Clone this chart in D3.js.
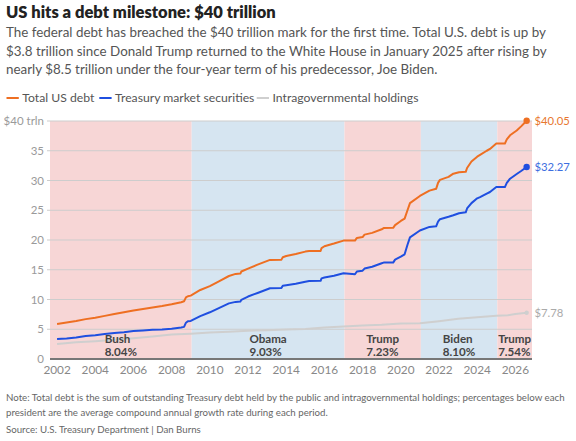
<!DOCTYPE html>
<html>
<head>
<meta charset="UTF-8">
<style>
  body { margin: 0; background: #fff; }
  svg { display: block; font-family: Lato, "Noto Sans", sans-serif; }
</style>
</head>
<body>
<svg id="chart"></svg>
<script src="https://d3js.org/d3.v7.min.js"></script>
<script>
// decimal years
const dates = [2002.0, 2002.5, 2003.0, 2003.5, 2004.0, 2004.5, 2005.0, 2005.5, 2006.0, 2006.5,
  2007.0, 2007.5, 2008.0, 2008.5, 2008.65, 2008.75, 2008.85, 2009.0, 2009.5, 2010.0,
  2010.5, 2011.0, 2011.35, 2011.6, 2011.65, 2012.0, 2012.5, 2013.15, 2013.75, 2013.82,
  2014.0, 2014.5, 2015.0, 2015.2, 2015.8, 2015.85, 2016.0, 2016.5, 2017.0, 2017.6,
  2017.7, 2018.0, 2018.1, 2018.5, 2019.0, 2019.1, 2019.6, 2019.7, 2020.0, 2020.2,
  2020.35, 2020.48, 2021.0, 2021.5, 2021.85, 2021.95, 2022.05, 2022.5, 2022.75, 2023.05,
  2023.4, 2023.47, 2023.7, 2024.0, 2024.15, 2024.5, 2024.67, 2025.0, 2025.45, 2025.55,
  2025.72, 2026.07, 2026.3, 2026.59];

const totalDebt = [5.90, 6.15, 6.40, 6.70, 6.95, 7.25, 7.55, 7.85, 8.15, 8.40,
  8.65, 8.90, 9.20, 9.55, 9.70, 10.35, 10.55, 10.65, 11.60, 12.25,
  13.10, 13.95, 14.30, 14.35, 14.70, 15.20, 15.85, 16.65, 16.70, 17.10,
  17.30, 17.65, 18.05, 18.15, 18.15, 18.65, 18.95, 19.40, 19.90, 19.90,
  20.35, 20.50, 20.90, 21.20, 21.80, 22.00, 22.05, 22.50, 23.20, 23.60,
  25.00, 26.20, 27.40, 28.30, 28.60, 29.60, 30.10, 30.60, 31.15, 31.40,
  31.45, 32.10, 33.20, 34.00, 34.30, 35.00, 35.30, 36.20, 36.20, 36.90,
  37.60, 38.40, 39.10, 40.05];

const marketSecurities = [3.38, 3.45, 3.60, 3.85, 4.00, 4.20, 4.35, 4.50, 4.70, 4.80,
  4.90, 4.95, 5.10, 5.30, 5.40, 6.10, 6.35, 6.40, 7.20, 7.85,
  8.60, 9.35, 9.60, 9.65, 9.95, 10.50, 11.10, 11.90, 11.95, 12.30,
  12.40, 12.65, 13.00, 13.10, 13.15, 13.55, 13.70, 14.00, 14.40, 14.25,
  14.70, 14.85, 15.20, 15.50, 16.10, 16.20, 16.20, 16.70, 17.20, 17.60,
  19.20, 20.45, 21.60, 22.20, 22.30, 23.10, 23.50, 23.90, 24.15, 24.50,
  24.65, 25.30, 26.20, 27.00, 27.20, 27.80, 28.07, 28.90, 28.90, 29.60,
  30.30, 31.10, 31.60, 32.27];

const intraDates = [2002, 2003, 2004, 2005, 2006, 2007, 2008, 2009, 2010, 2011,
  2012, 2013, 2014, 2015, 2016, 2017, 2018, 2019, 2020, 2021,
  2022, 2023, 2024, 2025, 2025.6, 2026, 2026.59];
const intraHoldings = [2.52, 2.80, 3.00, 3.25, 3.50, 3.80, 4.10, 4.25, 4.45, 4.60,
  4.75, 4.85, 4.95, 5.05, 5.30, 5.45, 5.65, 5.75, 5.95, 6.00,
  6.35, 6.75, 7.00, 7.25, 7.35, 7.55, 7.78];

const presidents = ["Bush", "Obama", "Trump", "Biden", "Trump"];
const parties = ["R", "D", "R", "D", "R"];
const termStarts = [2001.05, 2009.05, 2017.05, 2021.05, 2025.05];
const termEnds = [2009.05, 2017.05, 2021.05, 2025.05, 2029.05];
const growthRates = ["8.04%", "9.03%", "7.23%", "8.10%", "7.54%"];

const yTicks = [0, 5, 10, 15, 20, 25, 30, 35, 40];
const xTicks = [2002, 2004, 2006, 2008, 2010, 2012, 2014, 2016, 2018, 2020, 2022, 2024, 2026];

const seriesNames = ["Total US debt", "Treasury market securities", "Intragovernmental holdings"];

const W = 576, H = 441;
const margin = { top: 121, right: 44, bottom: 82, left: 50 };

const svg = d3.select("#chart").attr("width", W).attr("height", H);

const x = d3.scaleLinear().domain([2001.63, 2026.87]).range([margin.left, W - margin.right]);
const y = d3.scaleLinear().domain([0, 40]).range([H - margin.bottom, margin.top]);

const colors = ["#ee6f22", "#1f4fe0", "#cfcfcf"];
const labelColors = ["#e8772e", "#3d6ee0", "#aaaaaa"];
const bandColor = d3.scaleOrdinal().domain(["R", "D"]).range(["#f7d6d6", "#d6e5f1"]);

// title block
svg.append("text").attr("x", 6).attr("y", 17.5)
  .style("font-size", "16.5px").style("font-weight", 800).attr("fill", "#222")
  .text("US hits a debt milestone: $40 trillion");

const subLines = [
  "The federal debt has breached the $40 trillion mark for the first time. Total U.S. debt is up by",
  "$3.8 trillion since Donald Trump returned to the White House in January 2025 after rising by",
  "nearly $8.5 trillion under the four-year term of his predecessor, Joe Biden."
];
svg.append("g").selectAll("text").data(subLines).join("text")
  .attr("x", 6).attr("y", (d, i) => 37.3 + i * 18.4)
  .style("font-size", "13.4px").attr("fill", "#555").text(d => d);

// legend
const legendX = [6.5, 99.3, 256.7];
const legend = svg.append("g").selectAll("g").data(seriesNames).join("g")
  .attr("transform", (d, i) => `translate(${legendX[i]},98)`);
legend.append("line").attr("x1", 0).attr("x2", 12.3).attr("y1", 0).attr("y2", 0)
  .attr("stroke", (d, i) => colors[i]).attr("stroke-width", 2);
legend.append("text").attr("x", 15.8).attr("y", 4.3)
  .style("font-size", "12.2px").attr("fill", "#555").text(d => d);

// president bands
const plot = svg.append("g");
const bandX0 = termStarts.map(d => x(Math.max(d, x.domain()[0])));
const bandX1 = termEnds.map(d => x(Math.min(d, x.domain()[1])));
plot.selectAll("rect.band").data(presidents).join("rect").attr("class", "band")
  .attr("x", (d, i) => bandX0[i]).attr("width", (d, i) => bandX1[i] - bandX0[i])
  .attr("y", y(40)).attr("height", y(0) - y(40))
  .attr("fill", (d, i) => bandColor(parties[i]));

// grid
plot.selectAll("line.grid").data(yTicks.filter(d => d > 0)).join("line").attr("class", "grid")
  .attr("x1", x.range()[0] - 3).attr("x2", x.range()[1])
  .attr("y1", d => y(d)).attr("y2", d => y(d))
  .attr("stroke", "#cdcdcd").attr("stroke-width", 1);

// y labels
svg.append("g").selectAll("text").data(yTicks).join("text")
  .attr("x", 44).attr("y", d => y(d) + 4)
  .attr("text-anchor", "end").style("font-size", "11.5px").attr("fill", "#9a9a9a")
  .text(d => d === 40 ? "$40 trln" : d);

// x labels
svg.append("g").selectAll("text").data(xTicks).join("text")
  .attr("x", d => x(d)).attr("y", 374)
  .attr("text-anchor", "middle").style("font-size", "11.8px").attr("fill", "#888")
  .text(d => d);

// lines
const line = d3.line().x(d => x(d[0])).y(d => y(d[1]));
const totalPts = dates.map((d, i) => [d, totalDebt[i]]);
const marketPts = dates.map((d, i) => [d, marketSecurities[i]]);
const intraPts = intraDates.map((d, i) => [d, intraHoldings[i]]);
const allSeries = [totalPts, marketPts, intraPts];

svg.append("g").selectAll("path").data([intraPts, marketPts, totalPts]).join("path")
  .attr("d", line).attr("fill", "none")
  .attr("stroke", d => colors[allSeries.indexOf(d)])
  .attr("stroke-width", 2).attr("stroke-linejoin", "round");

// president labels, on top of the lines
const labels = svg.append("g").selectAll("g").data(presidents).join("g");
labels.each(function (d, i) {
  const g = d3.select(this);
  const t1 = g.append("text").attr("y", 342.5).text(d);
  const t2 = g.append("text").attr("y", 356).text(growthRates[i]);
  g.selectAll("text").style("font-size", "11.6px").style("font-weight", 700).attr("fill", "#444");
  const w = Math.max(t1.node().getComputedTextLength(), t2.node().getComputedTextLength());
  const cx = (bandX0[i] + bandX1[i]) / 2;
  g.selectAll("text").attr("x", cx - w / 2);
});

// baseline
svg.append("line").attr("x1", x.range()[0]).attr("x2", x.range()[1])
  .attr("y1", y(0)).attr("y2", y(0)).attr("stroke", "#777").attr("stroke-width", 2);

// end dots and labels
const ends = allSeries.map(s => s[s.length - 1]);
svg.append("g").selectAll("circle").data(ends).join("circle")
  .attr("cx", d => x(d[0])).attr("cy", d => y(d[1])).attr("r", (d, i) => i < 2 ? 3.2 : 2.2)
  .attr("fill", (d, i) => colors[i]);
svg.append("g").selectAll("text").data(ends).join("text")
  .attr("x", 534.5).attr("y", d => y(d[1]) + 4)
  .style("font-size", "11.3px").attr("fill", (d, i) => labelColors[i])
  .text(d => "$" + d[1].toFixed(2));

// notes
const notes = [
  "Note: Total debt is the sum of outstanding Treasury debt held by the public and intragovernmental holdings; percentages below each",
  "president are the average compound annual growth rate during each period."
];
svg.append("g").selectAll("text").data(notes).join("text")
  .attr("x", 6).attr("y", (d, i) => 401 + i * 14.5)
  .style("font-size", "9.7px").attr("fill", "#666").text(d => d);
svg.append("text").attr("x", 6).attr("y", 433)
  .style("font-size", "9.7px").attr("fill", "#666")
  .text("Source: U.S. Treasury Department | Dan Burns");
</script>
</body>
</html>
